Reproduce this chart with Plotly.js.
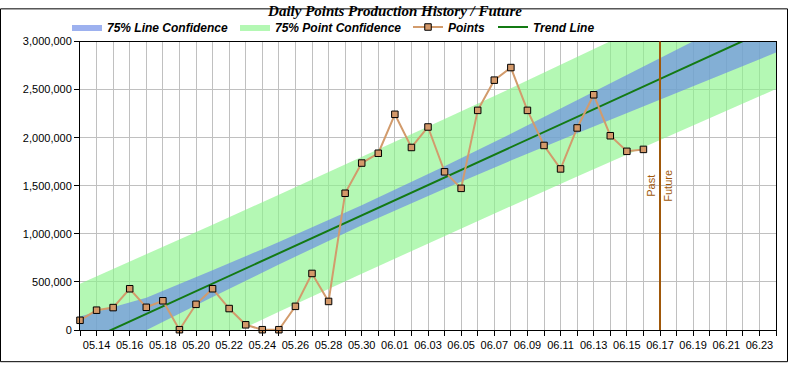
<!DOCTYPE html>
<html><head><meta charset="utf-8">
<script src="https://cdn.plot.ly/plotly-3.0.1.min.js"></script>
<style>html,body{margin:0;padding:0;background:#fff;} #chart{width:790px;height:365px;}</style>
</head><body><div id="chart"></div>
<script>
// ---- data ----
const pointDates = [
  '2024-05-13','2024-05-14','2024-05-15','2024-05-16','2024-05-17','2024-05-18','2024-05-19',
  '2024-05-20','2024-05-21','2024-05-22','2024-05-23','2024-05-24','2024-05-25','2024-05-26',
  '2024-05-27','2024-05-28','2024-05-29','2024-05-30','2024-05-31','2024-06-01','2024-06-02',
  '2024-06-03','2024-06-04','2024-06-05','2024-06-06','2024-06-07','2024-06-08','2024-06-09',
  '2024-06-10','2024-06-11','2024-06-12','2024-06-13','2024-06-14','2024-06-15','2024-06-16'
];
const pointValues = [
  101000, 206000, 233000, 429000, 236000, 304000, 3000,
  267000, 429000, 223000, 54000, 3000, 3000, 246000,
  588000, 297000, 1422000, 1736000, 1838000, 2243000, 1898000,
  2111000, 1645000, 1473000, 2284000, 2598000, 2729000, 2284000,
  1919000, 1675000, 2101000, 2446000, 2020000, 1858000, 1878000
];
const trendDates = ['2024-05-13', '2024-06-24'];
const trendValues = [-148000, 3162000];

const bandDates = ['2024-05-13','2024-05-17','2024-05-21','2024-05-25','2024-05-30',
                   '2024-06-04','2024-06-08','2024-06-12','2024-06-17','2024-06-24'];
const lineConfUpper  = [140000, 336000, 621000, 914000, 1296000, 1702000, 2040000, 2385000, 2822000, 3439000];
const lineConfLower  = [-436000, -2000, 343000, 682000, 1088000, 1470000, 1762000, 2047000, 2398000, 2885000];
const pointConfUpper = [482000, 787000, 1095000, 1407000, 1798000, 2195000, 2514000, 2836000, 3243000, 3818000];
const pointConfLower = [-778000, -453000, -131000, 189000, 586000, 977000, 1288000, 1596000, 1977000, 2506000];

const dividerDate = '2024-06-17';
const xRange = ['2024-05-13', '2024-06-24'];
const yRange = [0, 3000000];
const DAY = 86400000;

// ---- build ----
const band = (upper, lower) => ({
  x: bandDates.concat(bandDates.slice().reverse()),
  y: upper.concat(lower.slice().reverse())
});
const gB = band(pointConfUpper, pointConfLower);
const bB = band(lineConfUpper, lineConfLower);

const legFont = {family: 'Liberation Sans, Arial, sans-serif', size: 12, weight: 'bold', style: 'italic', color: '#000'};
const tickFont = {family: 'Liberation Sans, Arial, sans-serif', size: 11, color: '#000'};
const brown = '#A0580A';

const traces = [
  {x: gB.x, y: gB.y, type: 'scatter', mode: 'lines', fill: 'toself',
   fillcolor: 'rgba(140,245,140,0.65)', line: {width: 0}, name: '75% Point Confidence',
   legend: 'legend2', hoverinfo: 'skip'},
  {x: bB.x, y: bB.y, type: 'scatter', mode: 'lines', fill: 'toself',
   fillcolor: 'rgba(105,135,230,0.65)', line: {width: 0}, name: '75% Line Confidence',
   legend: 'legend', hoverinfo: 'skip'},
  {x: trendDates, y: trendValues, type: 'scatter', mode: 'lines',
   line: {color: '#137A13', width: 2}, name: 'Trend Line', legend: 'legend4'},
  {x: pointDates, y: pointValues, type: 'scatter', mode: 'lines+markers',
   line: {color: '#D29B6C', width: 2},
   marker: {symbol: 'square', size: 6.5, color: '#D4996A', line: {color: '#000', width: 1}},
   name: 'Points', legend: 'legend3', cliponaxis: false}
];

const legBase = (textX) => ({
  x: (textX - 40) / 790, xref: 'container', xanchor: 'left',
  y: 1 - 27 / 365, yref: 'container', yanchor: 'middle',
  orientation: 'h', bgcolor: 'rgba(0,0,0,0)', font: legFont
});

const pl = 696, ph = 296, ml = 80, mt = 34;
const layout = {
  width: 790, height: 365,
  margin: {l: ml, r: 790 - ml - pl, t: mt, b: 365 - mt - ph, pad: 0},
  paper_bgcolor: '#fff', plot_bgcolor: '#fff',
  title: {text: 'Daily Points Production History / Future',
          font: {family: 'Liberation Serif, Times New Roman, serif', size: 15, weight: 'bold', style: 'italic', color: '#000'},
          x: 0.5, xref: 'container', xanchor: 'center', y: 1 - 11 / 365, yref: 'container', yanchor: 'middle'},
  showlegend: true,
  legend: legBase(107),
  legend2: legBase(275),
  legend3: legBase(448),
  legend4: legBase(533),
  xaxis: {type: 'date', range: xRange, tickformat: '%m.%d', tick0: '2024-05-14', dtick: 2 * DAY,
          ticks: 'outside', ticklen: 5, tickcolor: '#000', tickwidth: 1,
          showgrid: true, gridcolor: '#C0C0C0', gridwidth: 1,
          minor: {tick0: '2024-05-13', dtick: DAY, showgrid: true, gridcolor: '#C0C0C0', gridwidth: 1,
                  ticks: 'outside', ticklen: 5, tickcolor: '#000'},
          showline: true, mirror: true, linecolor: '#000', linewidth: 1,
          zeroline: false, tickfont: tickFont, fixedrange: true},
  yaxis: {range: yRange, dtick: 500000, tick0: 0, tickformat: ',d',
          ticks: 'outside', ticklen: 5, tickcolor: '#000', tickwidth: 1,
          showgrid: true, gridcolor: '#C0C0C0', gridwidth: 1,
          showline: true, mirror: true, linecolor: '#000', linewidth: 1,
          zeroline: false, tickfont: tickFont, fixedrange: true},
  shapes: [
    {type: 'line', xref: 'x', yref: 'paper', x0: dividerDate, x1: dividerDate, y0: 0, y1: 1,
     line: {color: brown, width: 2}, layer: 'above'},
    {type: 'rect', xref: 'paper', yref: 'paper',
     x0: (0.5 - ml) / pl, x1: (787.5 - ml) / pl, y0: (mt + ph - 362.5) / ph, y1: (mt + ph - 0.5) / ph,
     line: {color: '#000', width: 1}, fillcolor: 'rgba(0,0,0,0)', layer: 'above'}
  ],
  annotations: [
    {text: 'Past', x: dividerDate, xref: 'x', y: 0.5, yref: 'paper', textangle: -90, showarrow: false,
     xshift: -9, font: {family: 'Liberation Sans, Arial, sans-serif', size: 11, color: brown}},
    {text: 'Future', x: dividerDate, xref: 'x', y: 0.5, yref: 'paper', textangle: -90, showarrow: false,
     xshift: 8, font: {family: 'Liberation Sans, Arial, sans-serif', size: 11, color: brown}}
  ]
};

Plotly.newPlot('chart', traces, layout, {displayModeBar: false, staticPlot: true});
</script>
</body></html>
